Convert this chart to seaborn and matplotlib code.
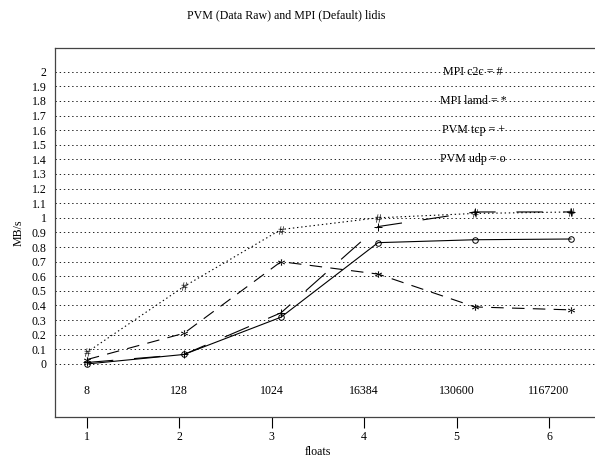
import numpy as np
import pandas as pd
import matplotlib
matplotlib.use("Agg")
import matplotlib.pyplot as plt
import seaborn as sns

# ---- data ----
title = "PVM (Data Raw) and MPI (Default) lidis"
x_ticks = [1, 2, 3, 4, 5, 6]
size_labels = ["8", "128", "1024", "16384", "130600", "1167200"]
x_pos = [1.0, 2.05, 3.1, 4.15, 5.2, 6.24]
mpi_c2c = [0.08, 0.53, 0.92, 1.00, 1.03, 1.04]
mpi_lamd = [0.03, 0.21, 0.70, 0.615, 0.39, 0.37]
pvm_tcp = [0.01, 0.065, 0.35, 0.94, 1.04, 1.04]
pvm_udp = [0.0, 0.065, 0.32, 0.83, 0.85, 0.855]
legend_labels = ["MPI c2c = #", "MPI lamd = *", "PVM tcp = +", "PVM udp = o"]
y_ticks = [round(0.1 * i, 1) for i in range(21)]

sns.set_theme(style="white")
plt.rcParams["font.family"] = ["Liberation Serif", "DejaVu Serif"]
plt.rcParams["mathtext.fontset"] = "custom"
plt.rcParams["mathtext.rm"] = "Liberation Serif"
plt.rcParams["lines.scale_dashes"] = False

fig = plt.figure(figsize=(5.95, 4.61), dpi=100)
ax = fig.add_axes([55 / 595, 44 / 461, 540 / 595, 369 / 461])

fs = 8.6
series = [
    (mpi_c2c, r"$\#$", (0, (1, 2)), 6, "black", 0.0),
    (mpi_lamd, r"$*$", (0, (9, 6)), 5, "black", 0.0),
    (pvm_tcp, "+", (0, (19, 15)), 6, "none", 0.7),
    (pvm_udp, "o", "-", 4, "none", 0.7),
]
for vals, mk, ls, ms, mfc, mew in series:
    sns.lineplot(x=x_pos, y=vals, ax=ax, color="black", linewidth=0.8,
                 linestyle=ls, marker=mk, markersize=ms,
                 markerfacecolor=mfc, markeredgecolor="black",
                 markeredgewidth=mew)

ax.set_xlim(0.654, 6.498)
ax.set_ylim(-0.363, 2.162)
ax.set_yticks(y_ticks)
ax.set_yticklabels([f"{v:g}" for v in y_ticks])
ax.set_xticks(x_ticks)
ax.set_xticklabels([str(t) for t in x_ticks])
ax.grid(axis="y", linestyle=(0, (1, 2)), color="black", linewidth=0.6)
ax.grid(axis="x", visible=False)
ax.tick_params(axis="y", length=0, pad=6, labelsize=fs, colors="black")
ax.tick_params(axis="x", direction="out", length=8, width=0.8, pad=2,
               labelsize=fs, colors="black", bottom=True)

for s in ["left", "top", "bottom"]:
    ax.spines[s].set_color("#444444")
    ax.spines[s].set_linewidth(0.9)
ax.spines["right"].set_visible(False)

for xt, lab in zip(x_ticks, size_labels):
    ax.text(xt, -0.185, lab, ha="center", va="center", fontsize=fs, color="black")

for i, lab in enumerate(legend_labels):
    ax.text(5.18, 2.0 - 0.2 * i, lab, ha="center", va="center", fontsize=fs, color="black")

ax.set_xlabel("floats", fontsize=fs, color="black")
ax.xaxis.set_label_coords((3.5 - 0.654) / (6.498 - 0.654), -0.078)
ax.set_ylabel("MB/s", fontsize=fs, color="black")
ax.yaxis.set_label_coords(-30 / 540, 0.5)

fig.text(286 / 595, 1 - 15 / 461, title, ha="center", va="center", fontsize=fs, color="black")

fig.savefig("out.png", dpi=100)
